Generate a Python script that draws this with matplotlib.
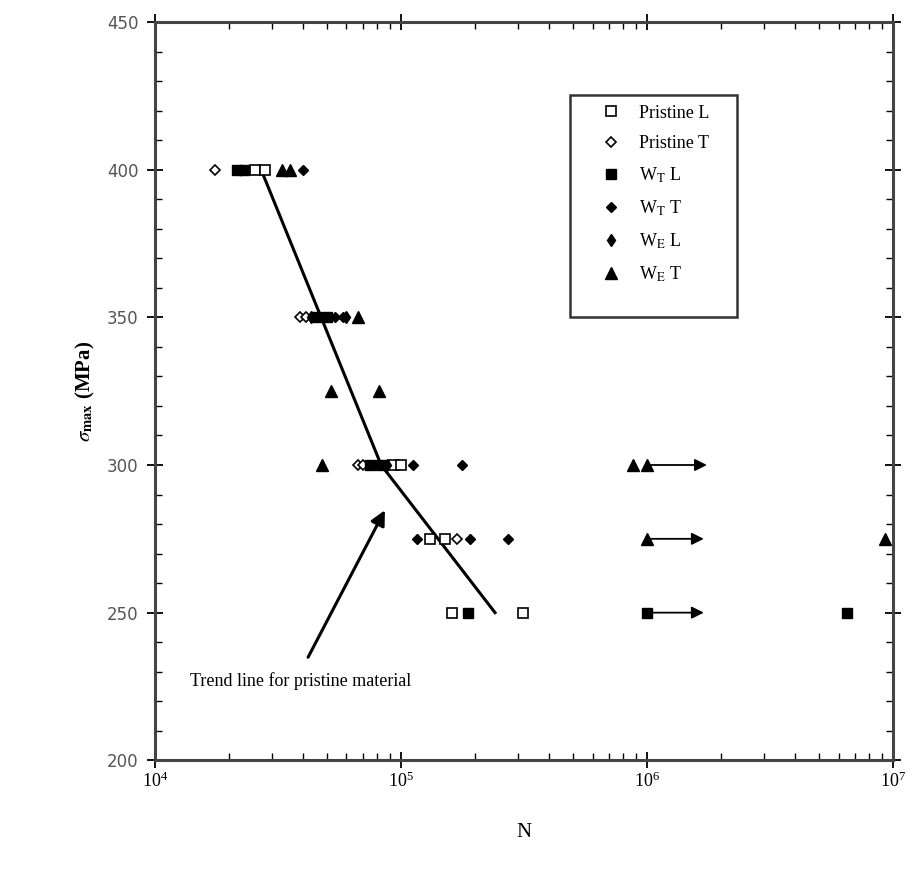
import matplotlib
matplotlib.use("Agg")
import matplotlib.pyplot as plt
from matplotlib.patches import Rectangle
from matplotlib.ticker import MultipleLocator, LogLocator, NullFormatter

plt.rcParams['font.family'] = ['Liberation Serif', 'DejaVu Serif']
plt.rcParams['mathtext.fontset'] = 'stix'

# cycles to failure N, stress levels in MPa
pl_N = [2.55e4, 2.8e4, 9.4e4, 1.0e5, 1.31e5, 1.51e5, 1.61e5, 3.13e5]
pl_S = [400, 400, 300, 300, 275, 275, 250, 250]

pt_N = [1.75e4, 3.9e4, 4.1e4, 6.7e4, 7.0e4, 1.69e5]
pt_S = [400, 350, 350, 300, 300, 275]

wtl_N = [2.15e4, 2.3e4, 4.5e4, 5.0e4, 7.5e4, 8.3e4, 1.87e5, 1.0e6, 6.5e6]
wtl_S = [400, 400, 350, 350, 300, 300, 250, 250, 250]

wtt_N = [4.0e4, 5.4e4, 5.8e4, 1.12e5, 1.77e5, 1.16e5, 1.91e5, 2.72e5]
wtt_S = [400, 350, 350, 300, 300, 275, 275, 275]

wel_N = [4.3e4, 6.0e4, 8.8e4]
wel_S = [350, 350, 300]

wet_N = [3.28e4, 3.54e4, 6.7e4, 5.2e4, 8.1e4, 4.77e4, 8.8e5, 1.0e6, 1.0e6, 9.3e6]
wet_S = [400, 400, 350, 325, 325, 300, 300, 300, 275, 275]

# run-outs (start, end, stress)
runout_start = [1.0e6, 1.0e6, 1.0e6]
runout_end = [1.75e6, 1.7e6, 1.7e6]
runout_S = [300, 275, 250]

# trend line for pristine material
trend_N = [2.7e4, 8.3e4, 2.41e5]
trend_S = [400, 300, 250]

fig = plt.figure(figsize=(9.17, 8.8), dpi=100)
ax = fig.add_axes([0.169, 0.136, 0.805, 0.839])
ax.set_xscale('log')
ax.set_xlim(1e4, 1e7)
ax.set_ylim(200, 450)

ax.plot(trend_N, trend_S, color='black', lw=2.2, zorder=2)

ms = 7
ax.plot(pl_N, pl_S, 's', mfc='white', mec='black', ms=ms, mew=1.2, ls='none', label='Pristine L', zorder=3)
ax.plot(pt_N, pt_S, 'D', mfc='white', mec='black', ms=5.5, mew=1.2, ls='none', label='Pristine T', zorder=3)
ax.plot(wtl_N, wtl_S, 's', color='black', ms=ms, ls='none', label=r'W$_{\mathrm{T}}$ L', zorder=3)
ax.plot(wtt_N, wtt_S, 'D', color='black', ms=5, ls='none', label=r'W$_{\mathrm{T}}$ T', zorder=3)
ax.plot(wel_N, wel_S, 'd', color='black', ms=6.5, ls='none', label=r'W$_{\mathrm{E}}$ L', zorder=3)
ax.plot(wet_N, wet_S, '^', color='black', ms=8, ls='none', label=r'W$_{\mathrm{E}}$ T', zorder=3)

for x0, x1, s in zip(runout_start, runout_end, runout_S):
    ax.annotate('', xy=(x1, s), xytext=(x0, s),
                arrowprops=dict(arrowstyle='-|>', color='black', lw=1.3,
                                mutation_scale=18, shrinkA=0, shrinkB=0))

ax.annotate('', xy=(8.6e4, 284.7), xytext=(4.19e4, 234.9),
            arrowprops=dict(arrowstyle='-|>', color='black', lw=2.2,
                            mutation_scale=22, shrinkA=0, shrinkB=0))
ax.text(1.39e4, 227, 'Trend line for pristine material', fontsize=13,
        ha='left', va='center')

# legend frame drawn separately so its size matches the original box
ax.add_patch(Rectangle((0.562, 0.600), 0.226, 0.301, transform=ax.transAxes,
                       fill=False, edgecolor='#333333', lw=1.8, zorder=4))
leg = ax.legend(loc='upper left', bbox_to_anchor=(0.600, 0.888), frameon=False,
                fontsize=13, labelspacing=0.75, handletextpad=0.8, borderpad=0,
                handlelength=1.5, borderaxespad=0)

ax.yaxis.set_major_locator(MultipleLocator(50))
ax.yaxis.set_minor_locator(MultipleLocator(10))
ax.xaxis.set_major_locator(LogLocator(base=10, numticks=10))
ax.xaxis.set_minor_locator(LogLocator(base=10, subs=range(2, 10), numticks=20))
ax.xaxis.set_minor_formatter(NullFormatter())

ax.tick_params(which='major', direction='inout', length=12, width=1.3,
               top=True, right=True, labelsize=13)
ax.tick_params(which='minor', direction='in', length=5, width=1,
               top=True, right=True)
for lbl in ax.get_yticklabels():
    lbl.set_family('DejaVu Sans')
    lbl.set_color('#555555')
    lbl.set_fontsize(12)
ax.tick_params(axis='y', pad=6)
ax.tick_params(axis='x', pad=2)

for sp in ax.spines.values():
    sp.set_linewidth(2.2)
    sp.set_color('#444444')

ax.set_xlabel('N', fontsize=15)
ax.xaxis.set_label_coords(0.5, -0.085)
ax.set_ylabel(r'$\sigma_{\mathbf{max}}$ (MPa)', fontsize=15, fontweight='bold')
ax.yaxis.set_label_coords(-0.078, 0.5)

fig.savefig('out.png', dpi=100)
